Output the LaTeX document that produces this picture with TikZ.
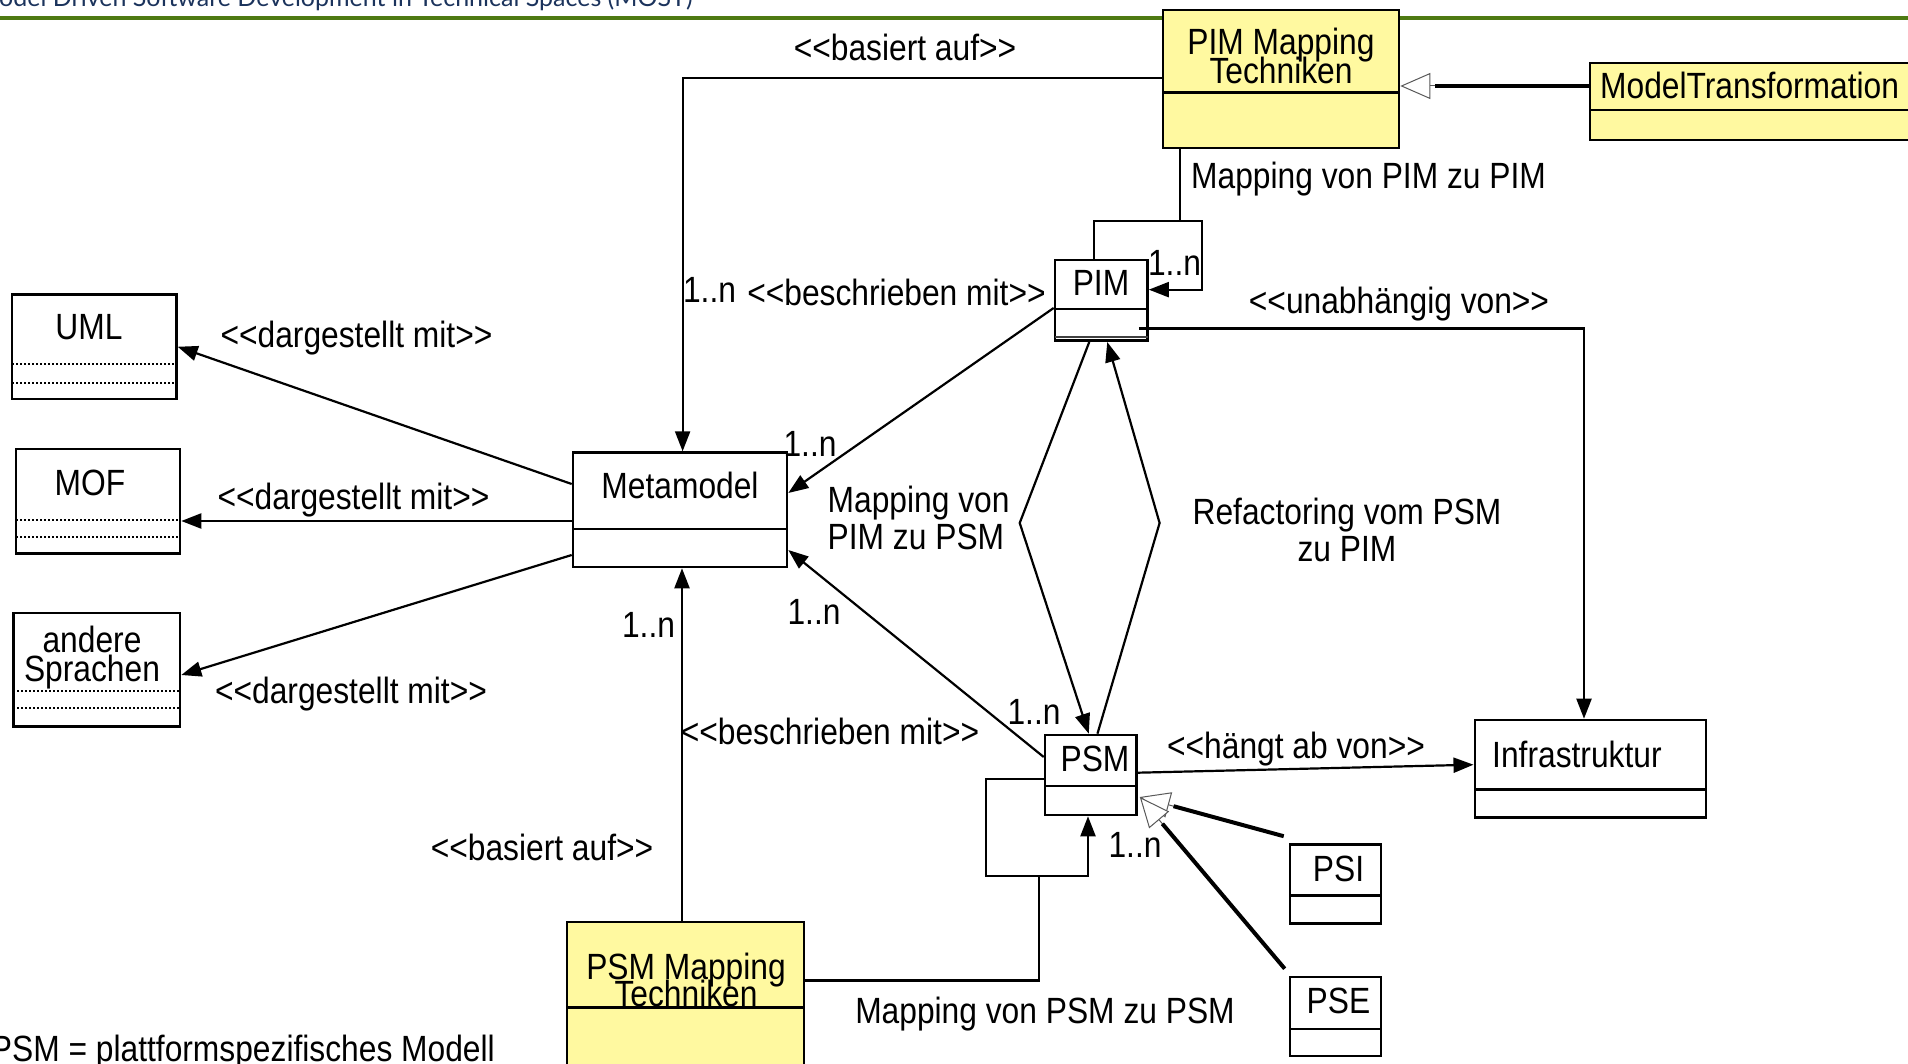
\documentclass[tikz,border=0pt]{standalone}
\usepackage{fontspec}
\setmainfont{Liberation Sans}[FakeStretch=0.87, Ligatures=TeXOff]
\newfontfamily\titlefont{Lato}
\usetikzlibrary{arrows.meta,fit,calc}
\definecolor{clsyellow}{HTML}{FFF9A0}
\definecolor{rulegreen}{HTML}{4E7A12}
\definecolor{titleblue}{HTML}{1B335C}

% class box: name, x1, y1, x2, y2, style
\newcommand\clsbox[6]{%
  \node[#6, fit={(#2,#3) (#4,#5)}] (#1) {};}
% horizontal compartment divider
\newcommand\clsdiv[3]{\draw[line width=2.6pt] (#1,#3) -- (#2,#3);}
\newcommand\clsdots[3]{\draw[dots] (#1,#3) -- (#2,#3);}
% label font with a fixed line distance
\newcommand\lblfont[1]{\fontsize{36.5}{#1}\selectfont\lineskiplimit=-100pt\lineskip=0pt}

\begin{document}
\begin{tikzpicture}[x=1pt,y=-1pt,
  cls/.style={draw, line width=2.6pt, inner sep=0pt, fill=white},
  mapcls/.style={cls, fill=clsyellow},
  lbl/.style={font=\lblfont{30}, inner sep=0pt, align=center},
  conn/.style={line width=2.2pt},
  arr/.style={conn, -{Triangle[length=20pt,width=15pt]}},
  genthin/.style={line width=1pt, black!65, -{Triangle[length=30pt,width=26pt,fill=white]}},
  genthick/.style={line width=4pt, shorten >=35pt},
  dots/.style={line width=2pt, dash pattern=on 2pt off 2pt},
]
\useasboundingbox (0,0) rectangle (1908,1064);

% page header
\node[anchor=base west, font=\titlefont\fontsize{25}{25}\selectfont, text=titleblue, inner sep=0pt]
  (title) at (-1,7) {odel Driven Software Development in Technical Spaces (MOST)};
\draw[rulegreen, line width=3.5pt] (0,18) -- (1908,18);

% ---------- classes ----------
\clsbox{pimmap}{1163}{10}{1399}{148}{mapcls}
\clsdiv{1163}{1399}{92.5}
\node[lbl, font=\lblfont{29}] (pimmap-t) at (1281,56) {PIM Mapping\\Techniken};

\clsbox{mt}{1590}{63}{1940}{140}{mapcls}
\clsdiv{1590}{1940}{110}
\node[lbl, anchor=west] (mt-t) at (1600,85) {ModelTransformation};

\clsbox{pim}{1055}{260}{1147.5}{340.7}{cls}
\clsdiv{1055}{1147.5}{309}
\draw[line width=2pt, black!75] (1055,337) -- (1147.5,337);
\node[lbl] (pim-t) at (1101,283) {PIM};

\clsbox{meta}{573}{452.6}{787}{567}{cls}
\clsdiv{573}{787}{529}
\node[lbl] (meta-t) at (680,485.5) {Metamodel};

\clsbox{uml}{12}{294.5}{176.4}{399}{cls}
\clsdots{12}{176.4}{364}
\clsdots{12}{176.4}{383}
\node[lbl] (uml-t) at (89,327) {UML};

\clsbox{mof}{16}{449}{180}{553.6}{cls}
\clsdots{16}{180}{519.6}
\clsdots{16}{180}{536.6}
\node[lbl] (mof-t) at (90,483) {MOF};

\clsbox{andere}{13.4}{613}{180}{726.4}{cls}
\clsdots{13.4}{180}{691}
\clsdots{13.4}{180}{708}
\node[lbl, font=\lblfont{29}] (andere-t) at (92,658) {andere\\Sprachen};

\clsbox{psm}{1045}{735}{1136.5}{815}{cls}
\clsdiv{1045}{1136.5}{786}
\node[lbl] (psm-t) at (1095,759) {PSM};

\clsbox{psmmap}{567}{922}{804}{1080}{mapcls}
\clsdiv{567}{804}{1007.5}
\node[lbl, font=\lblfont{27}] (psmmap-t) at (686,980) {PSM Mapping\\Techniken};

\clsbox{infra}{1474.8}{720}{1706}{817.7}{cls}
\clsdiv{1474.8}{1706}{789.7}
\node[lbl, anchor=west] (infra-t) at (1492,754) {Infrastruktur};

\clsbox{psi}{1290}{844.5}{1381}{923.6}{cls}
\clsdiv{1290}{1381}{895.6}
\node[lbl] (psi-t) at (1338.5,869) {PSI};

\clsbox{pse}{1290}{977}{1381}{1056}{cls}
\clsdiv{1290}{1381}{1029}
\node[lbl] (pse-t) at (1338.5,1001) {PSE};

% ---------- connectors ----------
% PIM Mapping Techniken basiert auf Metamodel
\draw[arr] ([yshift=1pt]pimmap.west) -| ([xshift=2.6pt]meta.north);
% ModelTransformation specialises PIM Mapping Techniken
\draw[genthin] ([yshift=15.5pt]mt.west) -- ([yshift=-7pt]pimmap.east);
\draw[genthick] ([yshift=15.5pt]mt.west) -- ([yshift=-7pt]pimmap.east);

% mapping PIM to PIM (self loop)
\coordinate (pimloop) at (1180,221.5);
\draw[conn] ([xshift=-101pt]pimmap.south) -- (pimloop);
\draw[arr] ([xshift=-7pt]pim.north) -- ++(0,-38) -- ++(108,0) |- ([yshift=10.7pt]pim.east);

% PIM beschrieben mit Metamodel
\draw[arr] ([yshift=-7.6pt]pim.west) -- ([yshift=16.8pt]meta.east);
% PIM unabhaengig von Infrastruktur
\draw[arr] ([xshift=-10pt,yshift=13.5pt]pim.south east) -| ([xshift=-6.4pt]infra.north);

% Metamodel dargestellt mit ...
\draw[arr] ([yshift=25.8pt]meta.west) -- (uml.east);
\draw[arr] ([yshift=-11.2pt]meta.west) -- ([yshift=-19.7pt]mof.east);
\draw[arr] ([yshift=-45.2pt]meta.west) -- ([yshift=-5.3pt]andere.east);

% PIM <-> PSM mapping and refactoring
\draw[arr] ([xshift=-12pt]pim.south) -- (1019.7,523) -- ([xshift=-2pt]psm.north);
\draw[arr] ([xshift=6.7pt]psm.north) -- (1159.6,523) -- ([xshift=6pt]pim.south);

% PSM beschrieben mit Metamodel
\draw[arr] ([yshift=18pt]psm.west) -- ([yshift=-40.2pt]meta.east);
% PSM Mapping Techniken basiert auf Metamodel
\draw[arr] ([xshift=-3.5pt]psmmap.north) -- ([xshift=2pt]meta.south);

% mapping PSM to PSM (self loop)
\coordinate (psmloop) at (1039,876);
\draw[conn] ([yshift=20.5pt]psmmap.east) -| (psmloop);
\draw[arr] ([yshift=-3.8pt]psm.west) -| (985.6,876) -| ([xshift=-2.75pt]psm.south);

% PSM haengt ab von Infrastruktur
\draw[arr] ([yshift=2.3pt]psm.east) -- ([yshift=4.15pt]infra.west);

% PSI and PSE specialise PSM
\coordinate (gentip) at ([xshift=2pt,yshift=-22pt]psm.east);
\draw[genthin] ([xshift=-5pt,yshift=7pt]psi.north west) -- (gentip);
\draw[genthick] ([xshift=-5pt,yshift=7pt]psi.north west) -- (gentip);
\draw[genthin] ([xshift=-4pt,yshift=7pt]pse.north west) -- (gentip);
\draw[genthick] ([xshift=-4pt,yshift=7pt]pse.north west) -- (gentip);

% ---------- labels ----------
\node[lbl] (l-basiert1) at (905,47.5) {<<basiert auf>>};
\node[lbl, anchor=west] (l-pimpim) at (1191,179.5) {Mapping von PIM zu PIM};
\node[lbl] (l-n1) at (1174.5,263) {1..n};
\node[lbl] (l-n2) at (709.5,290) {1..n};
\node[lbl] (l-beschr1) at (896.5,292) {<<beschrieben mit>>};
\node[lbl] (l-n3) at (810,444) {1..n};
\node[lbl] (l-unabh) at (1399,304) {<<unabhängig von>>};
\node[lbl] (l-darg1) at (356.5,338) {<<dargestellt mit>>};
\node[lbl] (l-darg2) at (353.5,500) {<<dargestellt mit>>};
\node[lbl] (l-darg3) at (351,694.5) {<<dargestellt mit>>};
\node[lbl, align=left, anchor=west, font=\lblfont{36.6}] (l-pimpsm) at (827.5,518) {Mapping von\\PIM zu PSM};
\node[lbl, font=\lblfont{36.6}] (l-refac) at (1347,530) {Refactoring vom PSM\\zu PIM};
\node[lbl] (l-n4) at (1034,712) {1..n};
\node[lbl] (l-n5) at (814,612) {1..n};
\node[lbl] (l-beschr2) at (830,731) {<<beschrieben mit>>};
\node[lbl] (l-n6) at (648.5,625) {1..n};
\node[lbl] (l-basiert2) at (542,847) {<<basiert auf>>};
\node[lbl] (l-n7) at (1135,844.5) {1..n};
\node[lbl] (l-psmpsm) at (1045,1014.5) {Mapping von PSM zu PSM};
\node[lbl] (l-haengt) at (1296,749.5) {<<hängt ab von>>};
\node[lbl, anchor=east] (footer) at (495,1052.5) {PSM = plattformspezifisches Modell};
\end{tikzpicture}
\end{document}
